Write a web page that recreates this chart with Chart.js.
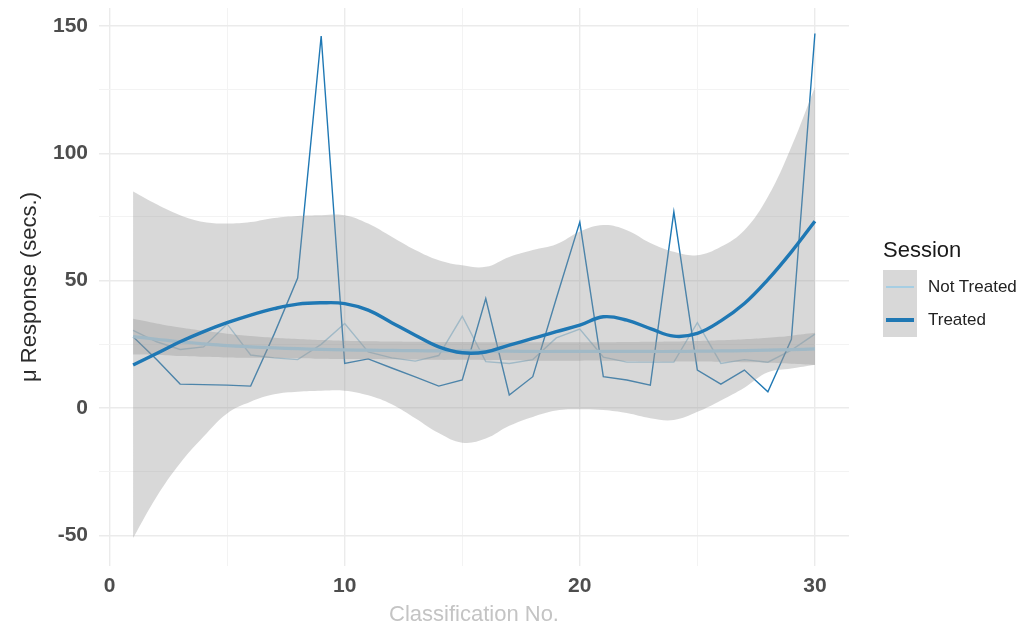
<!DOCTYPE html>
<html lang="en">
<head>
  <meta charset="UTF-8">
  <title>Response by classification</title>
  <script src="https://cdn.jsdelivr.net/npm/chart.js"></script>
  <style>
    body {margin:0; background:#fff; font-family:"Liberation Sans", Arial, sans-serif;}
    .wrap {position:relative; width:1025px; height:629px;}
    #legend .ttl {position:absolute; left:883px; top:236px; font-size:22px; line-height:28px; color:#1a1a1a;}
    #legend .keys {position:absolute; left:883px; top:270px; width:34px; height:67px; background:#d8d8d8;}
    #legend .ln {position:absolute; left:3px; width:28px;}
    #legend .lbl {position:absolute; left:928px; font-size:17px; line-height:20px; color:#222;}
  </style>
</head>
<body>

<div class="wrap">
  <canvas id="grafico" width="1025" height="629"></canvas>
  <div id="legend">
    <div class="ttl">Session</div>
    <div class="keys">
      <div class="ln" style="top:16px; height:2px; background:#a6cee3;"></div>
      <div class="ln" style="top:48px; height:4px; background:#1f78b4;"></div>
    </div>
    <div class="lbl" style="top:277px;">Not Treated</div>
    <div class="lbl" style="top:310px;">Treated</div>
  </div>
</div>

<script>
const classNo = [1,2,3,4,5,6,7,8,9,10,11,12,13,14,15,16,17,18,19,20,21,22,23,24,25,26,27,28,29,30];

// raw means per classification
const treatedRaw    = [28, 19, 9.4, 9.2, 9, 8.6, 29, 51, 146, 17.5, 19.3, 15.7, 12.2, 8.6, 11, 43, 5.1, 12.3, 43, 73, 12.3, 11, 9, 77, 14.9, 9.4, 14.9, 6.4, 27, 147];
const notTreatedRaw = [30.5, 26, 23, 24, 33, 20.8, 19.7, 19, 25, 33.2, 22, 19.7, 18.4, 20.6, 36, 18.2, 17.5, 19, 27.5, 31, 20, 18, 18, 18, 33.5, 17.5, 19, 18, 22.7, 29];

// smoothed fits + confidence bands
const treatedFit   = [16.9, 21.4, 26, 30, 33.5, 36.5, 39, 40.8, 41.3, 41, 38.4, 33.5, 28.6, 24, 21.7, 22, 24.7, 27.3, 30, 32.5, 35.8, 34.5, 31.2, 28.2, 29.3, 34.2, 41, 50.4, 61.3, 73.3];
const treatedUpper = [85, 80, 75.7, 73, 72.4, 73, 74.6, 75.4, 75.7, 75.7, 72.4, 67.2, 62, 58, 56, 55.4, 59.3, 62, 64.3, 69.2, 71.8, 69.8, 64.8, 61.3, 60, 63.3, 69.8, 82.9, 102.5, 126];
const treatedLower = [-51, -34.8, -21.7, -11.2, -2.1, 2.5, 5.4, 6.4, 6.8, 6.8, 5, 1.5, -4, -9.8, -13.6, -12, -7, -3.5, -1, -0.5, -0.8, -2, -4, -4.7, -1.5, 3, 8, 14, 15.5, 17];

const notTreatedFit   = [28, 27, 26, 25.2, 24.5, 24, 23.6, 23.3, 23, 22.8, 22.7, 22.6, 22.5, 22.4, 22.4, 22.3, 22.3, 22.2, 22.2, 22.2, 22.2, 22.2, 22.2, 22.2, 22.3, 22.4, 22.5, 22.7, 22.9, 23.2];
const notTreatedUpper = [35, 33.2, 31.6, 30.3, 29.2, 28.3, 27.6, 27.1, 26.7, 26.4, 26.2, 26.1, 26, 25.9, 25.9, 25.8, 25.8, 25.8, 25.8, 25.8, 25.8, 25.9, 26, 26.1, 26.3, 26.6, 27, 27.6, 28.4, 29.5];
const notTreatedLower = [21, 20.8, 20.4, 20.1, 19.8, 19.7, 19.6, 19.5, 19.3, 19.2, 19.2, 19.1, 19, 18.9, 18.9, 18.8, 18.8, 18.6, 18.6, 18.6, 18.6, 18.5, 18.4, 18.3, 18.3, 18.2, 18, 17.8, 17.4, 16.9];

// grid positions and which of them get a label
const xGrid = [0, 5, 10, 15, 20, 25, 30];
const yGrid = [-50, -25, 0, 25, 50, 75, 100, 125, 150];
const xTicksShown = [0, 10, 20, 30];
const yTicksShown = [-50, 0, 50, 100, 150];

const pts = arr => arr.map((y, i) => ({x: classNo[i], y}));
const BAND = 'rgba(153,153,153,0.38)';
const FONT = '"Liberation Sans", Arial, sans-serif';

const base = {pointRadius: 0, pointHoverRadius: 0, fill: false};

const datasets = [
  // bands: upper fills down to the next dataset (the lower edge)
  {...base, label: 'NT upper', data: pts(notTreatedUpper), borderWidth: 0, tension: 0.4, fill: '+1', backgroundColor: BAND, order: 4},
  {...base, label: 'NT lower', data: pts(notTreatedLower), borderWidth: 0, tension: 0.4, order: 4},
  {...base, label: 'T upper', data: pts(treatedUpper), borderWidth: 0, tension: 0.4, fill: '+1', backgroundColor: BAND, order: 2},
  {...base, label: 'T lower', data: pts(treatedLower), borderWidth: 0, tension: 0.4, order: 2},
  // raw lines under the bands
  {...base, label: 'Not Treated raw', data: pts(notTreatedRaw), borderColor: '#a6cee3', borderWidth: 1.4, tension: 0, order: 6},
  {...base, label: 'Treated raw', data: pts(treatedRaw), borderColor: '#1f78b4', borderWidth: 1.4, tension: 0, order: 5},
  // smooth fits
  {...base, label: 'Not Treated', data: pts(notTreatedFit), borderColor: '#a6cee3', borderWidth: 3.2, tension: 0.4, order: 3},
  {...base, label: 'Treated', data: pts(treatedFit), borderColor: '#1f78b4', borderWidth: 3.4, tension: 0.4, order: 1}
];

const isMajor = (list, ctx) => ctx.tick && list.includes(ctx.tick.value);

new Chart(document.getElementById('grafico'), {
  type: 'line',
  data: {datasets},
  options: {
    responsive: false,
    animation: false,
    layout: {padding: {top: 8, right: 176, left: 0, bottom: 0}},
    plugins: {legend: {display: false}, tooltip: {enabled: false}},
    scales: {
      x: {
        type: 'linear', bounds: 'data', min: -0.45, max: 31.45,
        afterBuildTicks: s => { s.ticks = xGrid.map(v => ({value: v})); },
        afterFit: s => { s.height = 63; s.paddingLeft = 0; s.paddingRight = 0; },
        border: {display: false},
        grid: {
          drawTicks: false,
          color: ctx => (isMajor(xTicksShown, ctx) ? '#ebebeb' : '#f3f3f3'),
          lineWidth: ctx => (isMajor(xTicksShown, ctx) ? 1.4 : 1)
        },
        ticks: {
          padding: 8, maxRotation: 0, autoSkip: false,
          color: '#4d4d4d', font: {family: FONT, size: 21, weight: 'bold'},
          callback: v => (xTicksShown.includes(v) ? v : '')
        },
        title: {display: true, text: 'Classification No.', color: '#c4c4c4', font: {family: FONT, size: 22}, padding: {top: 0, bottom: 1}}
      },
      y: {
        bounds: 'data', min: -62, max: 157,
        afterBuildTicks: s => { s.ticks = yGrid.map(v => ({value: v})); },
        afterFit: s => { s.width = 99; s.paddingTop = 0; s.paddingBottom = 0; },
        border: {display: false},
        grid: {
          drawTicks: false,
          color: ctx => (isMajor(yTicksShown, ctx) ? '#ebebeb' : '#f3f3f3'),
          lineWidth: ctx => (isMajor(yTicksShown, ctx) ? 1.4 : 1)
        },
        ticks: {
          padding: 11, autoSkip: false,
          color: '#4d4d4d', font: {family: FONT, size: 21, weight: 'bold'},
          callback: v => (yTicksShown.includes(v) ? v : '')
        },
        title: {display: true, text: 'μ Response (secs.)', color: '#2b2b2b', font: {family: FONT, size: 22}, padding: {top: 17, bottom: 0}}
      }
    }
  }
});
</script>
</body>
</html>
